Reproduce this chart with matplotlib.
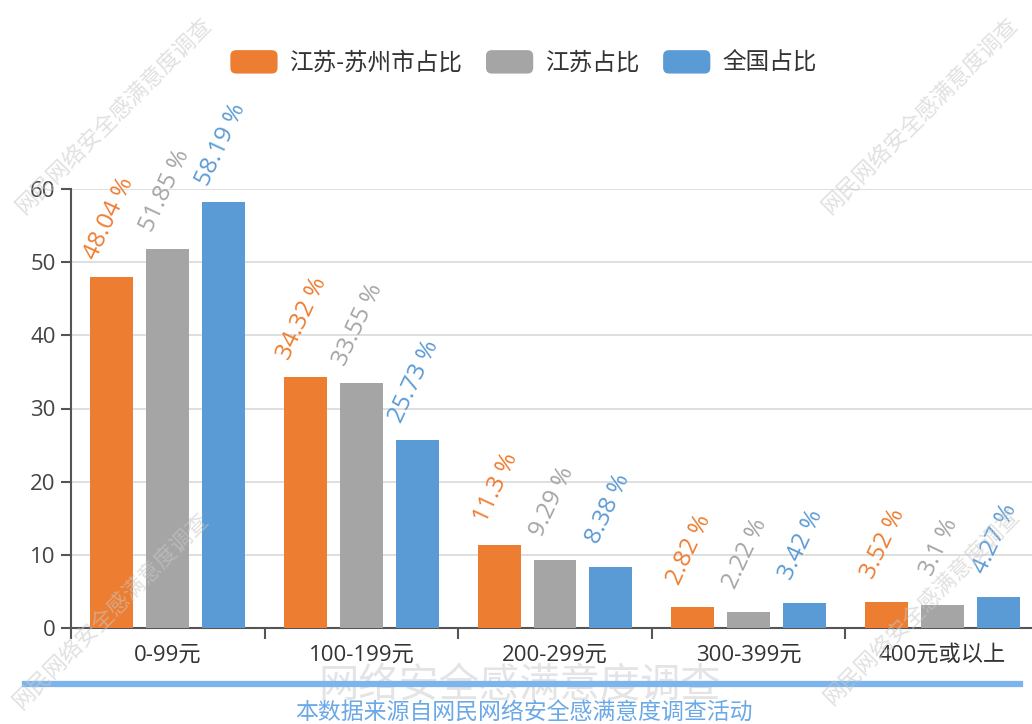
import numpy as np
import matplotlib
matplotlib.use("Agg")
import matplotlib.pyplot as plt
from matplotlib.patches import FancyBboxPatch, Patch
from matplotlib.legend_handler import HandlerPatch

plt.rcParams['font.family'] = ['Open Sans', 'Noto Sans CJK SC', 'DejaVu Sans']

# 数据
categories = ['0-99元', '100-199元', '200-299元', '300-399元', '400元或以上']
series_names = ['江苏-苏州市占比', '江苏占比', '全国占比']
suzhou = [48.04, 34.32, 11.3, 2.82, 3.52]
jiangsu = [51.85, 33.55, 9.29, 2.22, 3.1]
quanguo = [58.19, 25.73, 8.38, 3.42, 4.27]
colors = ['#ed7d31', '#a5a5a5', '#5b9bd5']

watermark = '网民网络安全感满意度调查'
title_mark = '网络安全感满意度调查'
source_text = '本数据来源自网民网络安全感满意度调查活动'


class RoundHandler(HandlerPatch):
    # 圆角图例色块
    def create_artists(self, legend, orig_handle, xdescent, ydescent,
                       width, height, fontsize, trans):
        p = FancyBboxPatch((-xdescent, -ydescent), width, height,
                           boxstyle='round,pad=0,rounding_size=%f' % (height * 0.25),
                           fc=orig_handle.get_facecolor(), ec='none', transform=trans)
        return [p]


fig = plt.figure(figsize=(10.32, 7.24), dpi=100)
ax = fig.add_axes([71 / 1032, 1 - 628 / 724, 968 / 1032, (628 - 189) / 724])

x = np.arange(len(categories))
offsets = [-0.289, 0, 0.289]
width = 0.222
for vals, off, col in zip([suzhou, jiangsu, quanguo], offsets, colors):
    bars = ax.bar(x + off, vals, width, color=col, zorder=3)
    for b, v in zip(bars, vals):
        ax.annotate(f'{v:g} %', (b.get_x() + b.get_width() / 2, b.get_height()),
                    xytext=(-3, 58), textcoords='offset pixels',
                    ha='center', va='center', rotation=65, rotation_mode='anchor',
                    fontsize=17.5, color=col, zorder=4, annotation_clip=False)

ax.set_xlim(-0.5, len(categories) - 0.5)
ax.set_ylim(0, 60)
ax.set_yticks(np.arange(0, 61, 10))
ax.yaxis.grid(True, color='#d9d9d9', lw=1.2, zorder=0)
ax.set_axisbelow(True)

ax.set_xticks(x)
ax.set_xticklabels(categories)
ax.set_xticks(np.arange(-0.5, len(categories)), minor=True)
ax.tick_params(axis='x', which='major', length=0, pad=12, labelsize=16, labelcolor='#333333')
ax.tick_params(axis='x', which='minor', length=8, width=1.5, color='#555555')
ax.tick_params(axis='y', length=7, width=1.5, color='#555555', pad=4,
               labelsize=16, labelcolor='#444444')

for s in ['top', 'right']:
    ax.spines[s].set_visible(False)
for s in ['left', 'bottom']:
    ax.spines[s].set_color('#555555')
    ax.spines[s].set_linewidth(1.5)

# 图例
handles = [Patch(facecolor=c) for c in colors]
fig.legend(handles, series_names, loc='center', bbox_to_anchor=(523.5 / 1032, 1 - 63 / 724),
           ncol=3, frameon=False, fontsize=17, labelcolor='#333333',
           handlelength=2.0, handleheight=1.15, handletextpad=0.5, columnspacing=1.0,
           handler_map={Patch: RoundHandler()})

# 水印
for cx, cy in [(115, 117), (921, 117), (112, 612), (923, 608)]:
    fig.text(cx / 1032, 1 - cy / 724, watermark, rotation=45, ha='center', va='center',
             fontsize=16, color='#c8c8c8', alpha=0.55, zorder=10)

# 底部
fig.text(520 / 1032, 1 - 686 / 724, title_mark, ha='center', va='center',
         fontsize=29, color='#e4e4e4', zorder=1)
fig.add_artist(plt.Line2D([25 / 1032, 1020 / 1032], [1 - 684 / 724, 1 - 684 / 724],
                          color='#7cb5ec', lw=4.5, zorder=2))
fig.text(524 / 1032, 1 - 713 / 724, source_text, ha='center', va='center',
         fontsize=16.5, color='#6aa8e6', zorder=3)

fig.savefig('out.png', dpi=100)
